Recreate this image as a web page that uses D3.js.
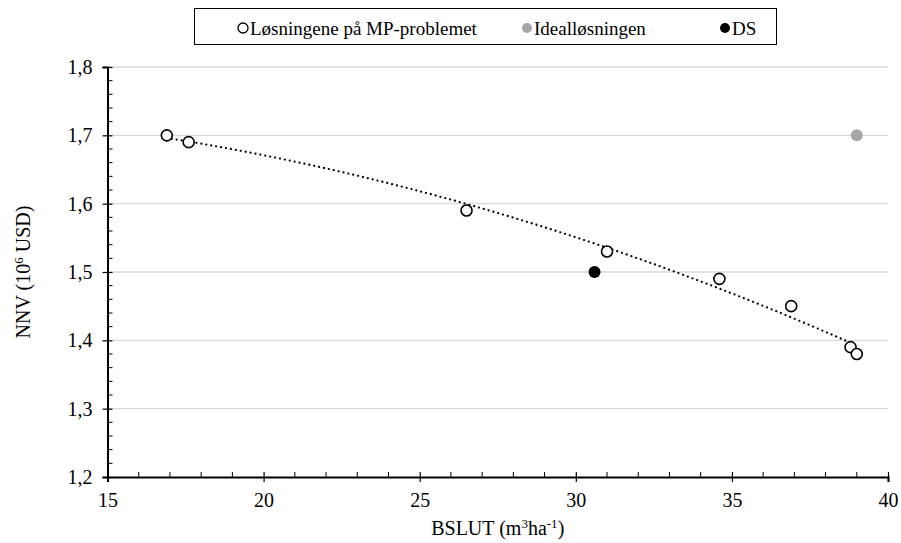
<!DOCTYPE html>
<html lang="no">
<head>
  <meta charset="UTF-8">
  <title>NNV mot BSLUT</title>
  <script src="https://cdnjs.cloudflare.com/ajax/libs/d3/7.8.5/d3.min.js"></script>
  <style>
    body { margin: 0; background: #fff; }
    svg text { font-family: "Liberation Serif", "Times New Roman", serif; }
  </style>
</head>
<body>
  <svg id="chart" width="901" height="543"></svg>
  <script>
    // data
    const mpX = [16.9, 17.6, 26.5, 31.0, 34.6, 36.9, 38.8, 39.0];
    const mpY = [1.70, 1.69, 1.59, 1.53, 1.49, 1.45, 1.39, 1.38];
    const idealX = [39.0];
    const idealY = [1.70];
    const dsX = [30.6];
    const dsY = [1.50];
    const xTicks = [15, 20, 25, 30, 35, 40];
    const yTicks = [1.2, 1.3, 1.4, 1.5, 1.6, 1.7, 1.8];
    const legendLabels = ["Løsningene på MP-problemet", "Idealløsningen", "DS"];

    const svg = d3.select("#chart");
    const x = d3.scaleLinear().domain([15, 40]).range([107.5, 888]);
    const y = d3.scaleLinear().domain([1.2, 1.8]).range([477, 67]);
    const comma = d3.formatLocale({decimal: ",", thousands: ".", grouping: [3], currency: ["", ""]}).format(".1f");

    // gridlines
    svg.append("g").selectAll("line")
      .data(yTicks.slice(1))
      .join("line")
      .attr("x1", x(15)).attr("x2", x(40))
      .attr("y1", d => y(d)).attr("y2", d => y(d))
      .attr("stroke", "#d9d9d9").attr("stroke-width", 1.3);

    // minor ticks (inside)
    svg.append("g").selectAll("line")
      .data(d3.range(15, 40.01, 1).filter(v => v % 5 !== 0))
      .join("line")
      .attr("x1", d => x(d)).attr("x2", d => x(d))
      .attr("y1", y(1.2)).attr("y2", y(1.2) - 5)
      .attr("stroke", "#000").attr("stroke-width", 1);
    svg.append("g").selectAll("line")
      .data(d3.range(0, 31).map(i => 1.2 + i * 0.02).filter((v, i) => i % 5 !== 0))
      .join("line")
      .attr("x1", x(15)).attr("x2", x(15) + 5)
      .attr("y1", d => y(d)).attr("y2", d => y(d))
      .attr("stroke", "#000").attr("stroke-width", 1);

    // axes with crossing major ticks
    const xAxis = svg.append("g")
      .attr("transform", `translate(0,${y(1.2)})`)
      .call(d3.axisBottom(x).tickValues(xTicks).tickSize(5).tickPadding(11).tickFormat(d3.format("d")));
    xAxis.selectAll(".tick line").attr("y1", -5).attr("stroke-width", 1.2);
    const yAxis = svg.append("g")
      .attr("transform", `translate(${x(15)},0)`)
      .call(d3.axisLeft(y).tickValues(yTicks).tickSize(5).tickPadding(10).tickFormat(comma));
    yAxis.selectAll(".tick line").attr("x1", 5).attr("stroke-width", 1.2);
    svg.selectAll(".domain").attr("stroke-width", 2);
    svg.selectAll(".tick text").attr("font-size", 20).attr("fill", "#000");

    // quadratic trend line (least squares over the MP solutions)
    const n = mpX.length;
    const s = k => d3.sum(mpX, v => Math.pow(v, k));
    const sy = k => d3.sum(mpX, (v, i) => Math.pow(v, k) * mpY[i]);
    const A = [[n, s(1), s(2)], [s(1), s(2), s(3)], [s(2), s(3), s(4)]];
    const B = [sy(0), sy(1), sy(2)];
    function solve(M, b) {
      const m = M.map((r, i) => r.concat([b[i]]));
      for (let c = 0; c < 3; c++) {
        for (let r = c + 1; r < 3; r++) {
          const f = m[r][c] / m[c][c];
          for (let k = c; k < 4; k++) m[r][k] -= f * m[c][k];
        }
      }
      const res = [0, 0, 0];
      for (let r = 2; r >= 0; r--) {
        let v = m[r][3];
        for (let k = r + 1; k < 3; k++) v -= m[r][k] * res[k];
        res[r] = v / m[r][r];
      }
      return res;
    }
    const coef = solve(A, B);
    const xs = d3.range(0, 101).map(i => d3.min(mpX) + (d3.max(mpX) - d3.min(mpX)) * i / 100);
    svg.append("path")
      .datum(xs)
      .attr("fill", "none")
      .attr("stroke", "#000")
      .attr("stroke-width", 2.3)
      .attr("stroke-linecap", "round")
      .attr("stroke-dasharray", "0 5")
      .attr("d", d3.line().x(d => x(d)).y(d => y(coef[0] + coef[1] * d + coef[2] * d * d)));

    // points
    svg.append("g").selectAll("circle")
      .data(mpX.map((v, i) => [v, mpY[i]]))
      .join("circle")
      .attr("cx", d => x(d[0])).attr("cy", d => y(d[1])).attr("r", 5.5)
      .attr("fill", "#fff").attr("stroke", "#000").attr("stroke-width", 1.6);
    svg.append("g").selectAll("circle")
      .data(idealX.map((v, i) => [v, idealY[i]]))
      .join("circle")
      .attr("cx", d => x(d[0])).attr("cy", d => y(d[1])).attr("r", 6)
      .attr("fill", "#a6a6a6");
    svg.append("g").selectAll("circle")
      .data(dsX.map((v, i) => [v, dsY[i]]))
      .join("circle")
      .attr("cx", d => x(d[0])).attr("cy", d => y(d[1])).attr("r", 6)
      .attr("fill", "#000");

    // axis titles
    svg.append("text")
      .attr("x", (x(15) + x(40)) / 2).attr("y", 535)
      .attr("text-anchor", "middle").attr("font-size", 20)
      .html('BSLUT (m<tspan baseline-shift="super" font-size="13">3</tspan>ha<tspan baseline-shift="super" font-size="13">-1</tspan>)');
    svg.append("text")
      .attr("transform", `translate(30,${(y(1.2) + y(1.8)) / 2}) rotate(-90)`)
      .attr("text-anchor", "middle").attr("font-size", 20)
      .html('NNV (10<tspan baseline-shift="super" font-size="13">6</tspan> USD)');

    // legend
    const lg = svg.append("g");
    lg.append("rect").attr("x", 194.5).attr("y", 8.5).attr("width", 582).attr("height", 36)
      .attr("fill", "#fff").attr("stroke", "#000").attr("stroke-width", 1);
    const legendPos = [243, 527, 725];
    const legendStyle = [
      {fill: "#fff", stroke: "#000"},
      {fill: "#a6a6a6", stroke: "none"},
      {fill: "#000", stroke: "none"}
    ];
    legendLabels.forEach((lab, i) => {
      lg.append("circle").attr("cx", legendPos[i]).attr("cy", 28).attr("r", 5)
        .attr("fill", legendStyle[i].fill).attr("stroke", legendStyle[i].stroke).attr("stroke-width", 1.3);
      lg.append("text").attr("x", legendPos[i] + 7).attr("y", 34.5)
        .attr("font-size", 19).text(lab);
    });
  </script>
</body>
</html>
